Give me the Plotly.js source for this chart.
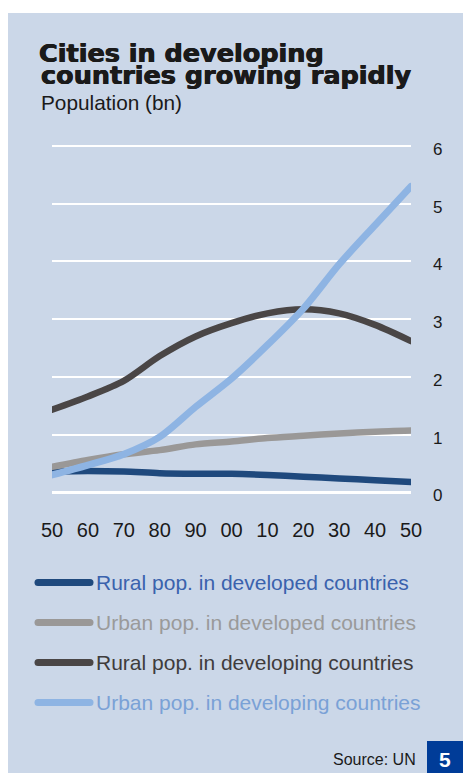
<!DOCTYPE html>
<html>
<head>
<meta charset="utf-8">
<script src="https://cdn.plot.ly/plotly-3.0.1.min.js"></script>
<style>
  html, body { margin: 0; padding: 0; background: #ffffff; }
  #chart { position: absolute; left: 8px; top: 13px; width: 455px; height: 760px; }
  #chart .js-line { stroke-linecap: round; }
  #chart .shapelayer path { stroke-linecap: round; }
  #chart .cartesianlayer .plot { clip-path: none !important; }
</style>
</head>
<body>
<div id="chart"></div>
<script>
// ---- data (billions) ----
const years = [1950, 1960, 1970, 1980, 1990, 2000, 2010, 2020, 2030, 2040, 2050];
const yearLabels = ["50", "60", "70", "80", "90", "00", "10", "20", "30", "40", "50"];
const ruralDeveloped  = [0.36, 0.37, 0.36, 0.33, 0.32, 0.32, 0.30, 0.27, 0.24, 0.21, 0.18];
const urbanDeveloped  = [0.44, 0.56, 0.66, 0.73, 0.83, 0.88, 0.94, 0.98, 1.02, 1.05, 1.07];
const ruralDeveloping = [1.43, 1.66, 1.93, 2.36, 2.70, 2.93, 3.10, 3.17, 3.10, 2.90, 2.62];
const urbanDeveloping = [0.30, 0.47, 0.66, 0.96, 1.48, 1.97, 2.55, 3.18, 3.95, 4.63, 5.30];
const seriesNames = [
  "Rural pop. in developed countries",
  "Urban pop. in developed countries",
  "Rural pop. in developing countries",
  "Urban pop. in developing countries"
];
const yTicks = [0, 1, 2, 3, 4, 5, 6];

// ---- styling ----
const lineColors = ["#1f497d", "#9a9897", "#4a4646", "#8eb4e3"];
const textColors = ["#3a62ad", "#9a9a9a", "#3f3c3c", "#7aa1d6"];
const lineWidths = [6.5, 6.5, 6.5, 7];
const panel = "#cbd7e8";
const heavy = "0.5px 0 0 #1a1a1a, -0.4px 0 0 #1a1a1a";

// ---- geometry helpers (page pixels -> paper coords) ----
const W = 455, H = 760, OX = 8, OY = 13;
const ML = 44, MR = 31, MT = 122, MB = 269;
const PW = W - ML - MR, PH = H - MT - MB;
const px = x => (x - OX - ML) / PW;
const py = y => (H - MB - (y - OY)) / PH;
const xDomainEnd = px(411);   // 2050 sits at page x = 411; y labels sit at the paper edge

const values = [ruralDeveloped, urbanDeveloped, ruralDeveloping, urbanDeveloping];
const traces = values.map((v, i) => ({
  type: "scatter",
  mode: "lines",
  x: years,
  y: v,
  name: seriesNames[i],
  line: { color: lineColors[i], width: lineWidths[i], shape: "spline", smoothing: 0.8 },
  hoverinfo: "skip",
  showlegend: false
}));

const legendY0 = 582.5, legendStep = 40;
const shapes = [];
const annotations = [];
seriesNames.forEach((n, i) => {
  const yy = legendY0 + i * legendStep;
  shapes.push({
    type: "line", xref: "paper", yref: "paper",
    x0: px(38), x1: px(90), y0: py(yy), y1: py(yy),
    line: { color: lineColors[i], width: 7 }
  });
  annotations.push({
    xref: "paper", yref: "paper", x: px(94), y: py(yy),
    xanchor: "left", yanchor: "middle", showarrow: false,
    text: n,
    font: { family: "Liberation Sans, Arial, sans-serif", size: 21, color: textColors[i] }
  });
});

// title line 2 and subtitle
annotations.push({
  xref: "paper", yref: "paper", x: px(39), y: py(74.5),
  xanchor: "left", yanchor: "middle", showarrow: false,
  text: "countries growing rapidly",
  font: { family: "DejaVu Sans, sans-serif", size: 25.5, weight: "bold", color: "#1a1a1a", shadow: heavy }
});
annotations.push({
  xref: "paper", yref: "paper", x: px(39), y: py(102),
  xanchor: "left", yanchor: "middle", showarrow: false,
  text: "Population (bn)",
  font: { family: "Liberation Sans, Arial, sans-serif", size: 20.8, color: "#1a1a1a" }
});
// source + page box
annotations.push({
  xref: "paper", yref: "paper", x: px(418), y: py(759),
  xanchor: "right", yanchor: "middle", showarrow: false,
  text: "Source: UN",
  font: { family: "Liberation Sans, Arial, sans-serif", size: 16, color: "#1a1a1a" }
});
shapes.push({
  type: "rect", xref: "paper", yref: "paper",
  x0: px(427), x1: px(470), y0: py(741), y1: py(780),
  fillcolor: "#003c98", line: { width: 0 }
});
annotations.push({
  xref: "paper", yref: "paper", x: px(445), y: py(759),
  xanchor: "center", yanchor: "middle", showarrow: false,
  text: "<b>5</b>",
  font: { family: "Liberation Sans, Arial, sans-serif", size: 21, color: "#ffffff" }
});

const layout = {
  width: W, height: H,
  paper_bgcolor: panel, plot_bgcolor: panel,
  margin: { l: ML, r: MR, t: MT, b: MB, pad: 0 },
  title: {
    text: "Cities in developing",
    xref: "container", yref: "container",
    x: (39 - OX) / W, xanchor: "left",
    y: 1 - (52.9 - OY) / H, yanchor: "middle",
    font: { family: "DejaVu Sans, sans-serif", size: 25.5, weight: "bold", color: "#1a1a1a", shadow: heavy }
  },
  xaxis: {
    domain: [0, xDomainEnd],
    range: [1950, 2050],
    tickmode: "array", tickvals: years, ticktext: yearLabels,
    showgrid: false, zeroline: false, showline: false,
    ticks: "", ticklabelstandoff: 12,
    tickfont: { family: "Liberation Sans, Arial, sans-serif", size: 20, color: "#1a1a1a" }
  },
  yaxis: {
    range: [-0.203, 6.19],
    anchor: "free", position: 1, side: "right",
    tickmode: "array", tickvals: yTicks,
    showgrid: true, gridcolor: "#ffffff", gridwidth: 2,
    zeroline: true, zerolinecolor: "#ffffff", zerolinewidth: 3,
    showline: false, ticks: "",
    ticklabelshift: 3,
    tickfont: { family: "Liberation Sans, Arial, sans-serif", size: 17, color: "#1a1a1a" }
  },
  showlegend: false,
  shapes: shapes,
  annotations: annotations
};

Plotly.newPlot("chart", traces, layout, { displayModeBar: false, staticPlot: true });
</script>
</body>
</html>
